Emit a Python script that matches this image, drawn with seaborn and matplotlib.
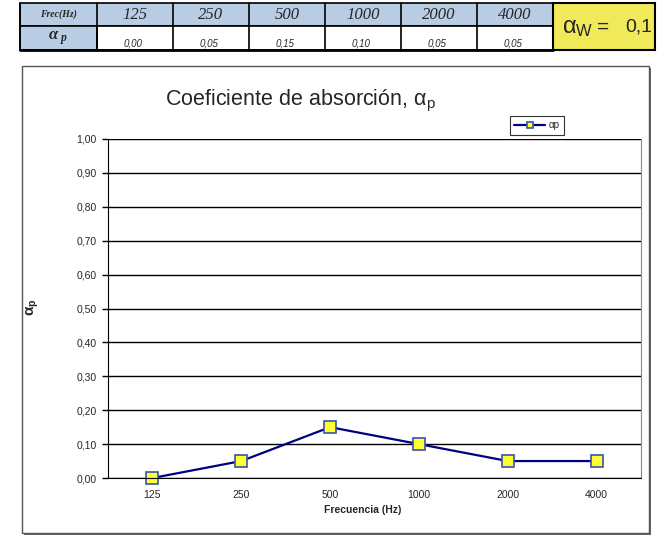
import matplotlib
matplotlib.use("Agg")
import matplotlib.pyplot as plt
import seaborn as sns
import pandas as pd
from matplotlib.patches import Rectangle

freqs = ["125", "250", "500", "1000", "2000", "4000"]
alpha_p = [0.00, 0.05, 0.15, 0.10, 0.05, 0.05]
alpha_p_labels = ["0,00", "0,05", "0,15", "0,10", "0,05", "0,05"]
alpha_w_label = "0,1"
yticks = [0.0, 0.1, 0.2, 0.3, 0.4, 0.5, 0.6, 0.7, 0.8, 0.9, 1.0]

sns.set_style("white")
plt.rcParams['font.family'] = ['Liberation Sans', 'DejaVu Sans']
plt.rcParams['mathtext.fontset'] = 'custom'
plt.rcParams['mathtext.rm'] = 'Liberation Sans'
plt.rcParams['mathtext.it'] = 'Liberation Serif:italic:bold'
plt.rcParams['mathtext.bf'] = 'Liberation Sans:bold'

W, H = 660, 547
fig = plt.figure(figsize=(W / 100, H / 100), dpi=100)

def fx(x):
    return x / W

def fy(y):
    return 1 - y / H

# ---- Table at top ----
blue = "#B8CCE4"
yellow = "#F0EA5A"
row_top, row_mid, row_bot = 3, 26, 50
col_edges = [20, 97, 173, 249, 325, 401, 477, 553]
fig.patches.append(Rectangle((fx(20), fy(row_mid)), fx(553 - 20), (row_mid - row_top) / H,
                             transform=fig.transFigure, facecolor=blue, edgecolor="black", lw=1.2))
fig.patches.append(Rectangle((fx(20), fy(row_bot)), fx(97 - 20), (row_bot - row_mid) / H,
                             transform=fig.transFigure, facecolor=blue, edgecolor="black", lw=1.2))
fig.patches.append(Rectangle((fx(97), fy(row_bot)), fx(553 - 97), (row_bot - row_mid) / H,
                             transform=fig.transFigure, facecolor="white", edgecolor="black", lw=1.2))
for xe in col_edges:
    fig.add_artist(plt.Line2D([fx(xe), fx(xe)], [fy(row_top), fy(row_bot)],
                              transform=fig.transFigure, color="black", lw=1.2))
fig.add_artist(plt.Line2D([fx(20), fx(553)], [fy(row_bot), fy(row_bot)],
                          transform=fig.transFigure, color="black", lw=2))
fig.patches.append(Rectangle((fx(553), fy(row_bot)), fx(655 - 553), (row_bot - row_top) / H,
                             transform=fig.transFigure, facecolor=yellow, edgecolor="black", lw=1.5))

fig.text(fx(58), fy(14.5), "Frec(Hz)", ha="center", va="center", fontsize=7,
         family="Liberation Serif", style="italic", weight="bold")
fig.text(fx(58), fy(38), r"$\alpha_{\ p}$", ha="center", va="center", fontsize=12)
for i, f in enumerate(freqs):
    right = col_edges[i + 2] if i + 2 < len(col_edges) else 553
    cx = (col_edges[i + 1] + right) / 2
    fig.text(fx(cx), fy(15), f, ha="center", va="center", fontsize=12,
             family="Liberation Serif", style="italic")
    fig.text(fx(cx - 2), fy(44), alpha_p_labels[i], ha="center", va="center", fontsize=7,
             style="italic")
fig.text(fx(562), fy(28), r"α$_\mathrm{W}$", ha="left", va="center", fontsize=17)
fig.text(fx(597), fy(27), "=", ha="left", va="center", fontsize=15)
fig.text(fx(652), fy(27), alpha_w_label, ha="right", va="center", fontsize=14)

# ---- Chart frame ----
fig.patches.append(Rectangle((fx(24), fy(535)), fx(651 - 24), (535 - 68) / H,
                             transform=fig.transFigure, facecolor="#666666", edgecolor="none", zorder=0))
fig.patches.append(Rectangle((fx(22), fy(533)), fx(649 - 22), (533 - 66) / H,
                             transform=fig.transFigure, facecolor="white", edgecolor="#555555", lw=1, zorder=0.5))

# ---- Axes ----
ax = fig.add_axes([108 / W, 1 - 478 / H, (641 - 108) / W, (478 - 139) / H])
ax.set_zorder(3)
df = pd.DataFrame({"freq": freqs, "alpha": alpha_p})
sns.lineplot(data=df, x="freq", y="alpha", ax=ax, sort=False, color="#000080", lw=1.6,
             marker="s", markersize=8, markerfacecolor="#FFFF33", markeredgecolor="#3355AA",
             markeredgewidth=1.2, label="αp", clip_on=False)
ax.set_xlim(-0.5, len(freqs) - 0.5)
ax.set_ylim(0, 1.0)
ax.set_yticks(yticks)
ax.set_yticklabels([f"{v:.2f}".replace(".", ",") for v in yticks], fontsize=7.5)
ax.yaxis.grid(True, color="black", lw=1)
ax.set_axisbelow(True)
ax.set_xticks(range(len(freqs)))
ax.set_xticklabels(freqs, fontsize=7.5)
ax.set_xticks([i - 0.5 for i in range(len(freqs) + 1)], minor=True)
ax.tick_params(axis="x", which="major", length=0, pad=9)
ax.tick_params(axis="x", which="minor", length=4, direction="out", color="black", width=1)
ax.tick_params(axis="y", length=4, direction="out", left=True, color="black", width=1, pad=4)
ax.spines["top"].set_visible(False)
ax.spines["left"].set_color("black")
ax.spines["bottom"].set_color("black")
ax.spines["right"].set_color("#888888")
ax.set_xlabel("Frecuencia (Hz)", fontsize=7.5, weight="bold")
ax.xaxis.set_label_coords((363 - 108) / (641 - 108), -(510 - 478) / (478 - 139))
ax.set_ylabel(r"α$_\mathbf{p}$", fontsize=11, weight="bold")
ax.yaxis.set_label_coords(-(108 - 32) / (641 - 108), (478 - 307) / (478 - 139))
ax.xaxis.label.set_va("center")
ax.yaxis.label.set_va("center")

leg = ax.legend(loc="upper left", bbox_to_anchor=((510 - 108) / (641 - 108), 1 + (139 - 116) / (478 - 139)),
                frameon=True, fontsize=7, handlelength=3.2, borderpad=0.45, fancybox=False,
                edgecolor="black", markerscale=0.6, borderaxespad=0, handletextpad=0.3)
leg.get_frame().set_linewidth(0.8)

fig.text(fx(165), fy(100), r"Coeficiente de absorción, α$_\mathrm{p}$", ha="left", va="center",
         fontsize=15.5)

fig.savefig("out.png", dpi=100)
